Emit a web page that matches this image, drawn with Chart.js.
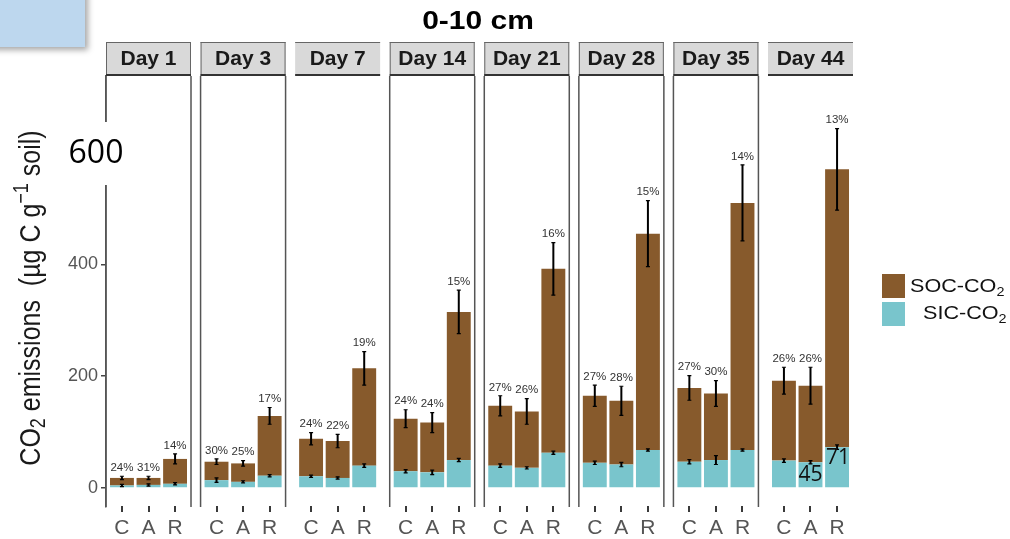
<!DOCTYPE html>
<html>
<head>
<meta charset="utf-8">
<script src="https://cdn.jsdelivr.net/npm/chart.js@4.4.1/dist/chart.umd.min.js"></script>
<style>
  html, body { margin: 0; background: #fff; }
  #wrap { position: relative; width: 1010px; height: 539px; }
</style>
</head>
<body>
<div id="wrap"><canvas id="chart"></canvas></div>
<script>
// values (ug C / g soil)
const days = ['Day 1', 'Day 3', 'Day 7', 'Day 14', 'Day 21', 'Day 28', 'Day 35', 'Day 44'];
const treatments = ['C', 'A', 'R'];
const totalCO2 = [
  [18, 18, 52], [47, 44, 129], [88, 84, 214], [124, 117, 315],
  [147, 137, 392], [165, 156, 455], [179, 169, 510], [192, 183, 570]
];
const sicCO2 = [
  [4.5, 5.5, 7.5], [14, 11, 22], [21, 18, 40], [30, 28, 50],
  [40, 36, 63], [45, 42, 68], [47, 50, 68], [49, 46, 73]
];
const totalErr = [
  [3, 3, 9], [5, 5, 15], [11, 12, 30], [16, 18, 39],
  [18, 23, 47], [19, 26, 59], [22, 23, 68], [24, 33, 73]
];
const sicErr = [
  [2, 2, 2], [4, 2, 2], [2, 2, 3], [3, 4, 3],
  [3, 2, 3], [3, 4, 2], [4, 8, 2], [3, 3, 4]
];
const sicPct = [
  ['24%', '31%', '14%'], ['30%', '25%', '17%'], ['24%', '22%', '19%'], ['24%', '24%', '15%'],
  ['27%', '26%', '16%'], ['27%', '28%', '15%'], ['27%', '30%', '14%'], ['26%', '26%', '13%']
];
const yTicks = [0, 200, 400, 600];
const noteA = '45', noteR = '71';

const BROWN = '#875a2c';
const TEAL = '#79c5cc';
const FONT = '"Liberation Sans", Arial, sans-serif';

const PERIOD = 3.56; // one facet = 3.2 units + gap
const xPos = (d, t) => d * PERIOD + t + 1;
const xTicks = days.flatMap((_, d) => treatments.map((_, t) => xPos(d, t)));
const sicPoints = days.flatMap((_, d) => treatments.map((_, t) => ({ x: xPos(d, t), y: sicCO2[d][t] })));
const socPoints = days.flatMap((_, d) => treatments.map((_, t) => ({ x: xPos(d, t), y: totalCO2[d][t] - sicCO2[d][t] })));

const noBorder = [2, 7]; // these facets lost their frame in the source image

function txt(ctx, s, x, y, font, color, align = 'center', sx = 1.2) {
  ctx.save();
  ctx.translate(x, y);
  ctx.scale(sx, 1);
  ctx.font = font;
  ctx.fillStyle = color;
  ctx.textAlign = align;
  ctx.textBaseline = 'middle';
  ctx.fillText(s, 0, 0);
  ctx.restore();
}

// parts: [text, sizeFactor, dy]
function richText(ctx, parts, size, color) {
  let w = 0;
  parts.forEach(p => { ctx.font = Math.round(size * p[1]) + 'px ' + FONT; w += ctx.measureText(p[0]).width; });
  let x = -w / 2;
  ctx.fillStyle = color;
  ctx.textBaseline = 'middle';
  ctx.textAlign = 'left';
  parts.forEach(p => {
    ctx.font = Math.round(size * p[1]) + 'px ' + FONT;
    ctx.fillText(p[0], x, p[2]);
    x += ctx.measureText(p[0]).width;
  });
  return w;
}

const facetPlugin = {
  id: 'facets',
  beforeDatasetsDraw(chart) {
    const { ctx, chartArea, scales: { x } } = chart;
    ctx.save();
    ctx.strokeStyle = '#555';
    ctx.lineWidth = 1.5;
    days.forEach((_, d) => {
      if (noBorder.includes(d)) return;
      const l = x.getPixelForValue(d * PERIOD + 0.4);
      const r = x.getPixelForValue(d * PERIOD + 3.6);
      ctx.beginPath();
      ctx.moveTo(l, chartArea.top); ctx.lineTo(l, chartArea.bottom);
      ctx.moveTo(r, chartArea.top); ctx.lineTo(r, chartArea.bottom);
      ctx.stroke();
    });
    ctx.restore();
  },
  afterDatasetsDraw(chart) {
    const { ctx, scales: { x, y } } = chart;
    ctx.save();
    ctx.strokeStyle = '#000';
    days.forEach((_, d) => {
      treatments.forEach((_, t) => {
        const px = x.getPixelForValue(xPos(d, t));
        const v = totalCO2[d][t], e = totalErr[d][t];
        const s = sicCO2[d][t], se = sicErr[d][t];
        [[v, e], [s, se]].forEach(([m, err]) => {
          const y0 = y.getPixelForValue(m - err), y1 = y.getPixelForValue(m + err);
          ctx.lineWidth = 2;
          ctx.beginPath(); ctx.moveTo(px, y0); ctx.lineTo(px, y1); ctx.stroke();
          ctx.lineWidth = 1.2;
          ctx.beginPath();
          ctx.moveTo(px - 2, y0); ctx.lineTo(px + 2, y0);
          ctx.moveTo(px - 2, y1); ctx.lineTo(px + 2, y1);
          ctx.stroke();
        });
        txt(ctx, sicPct[d][t], px, y.getPixelForValue(v + e) - 8, '10px ' + FONT, '#333', 'center', 1.15);
      });
    });
    // numbers added on the Day 44 facet
    txt(ctx, noteA, x.getPixelForValue(xPos(7, 1)), 475, '21px "Open Sans", ' + FONT, '#111', 'center', 1);
    txt(ctx, noteR, x.getPixelForValue(xPos(7, 2)) + 1, 458, '21px "Open Sans", ' + FONT, '#111', 'center', 1);
    ctx.restore();
  },
  afterDraw(chart) {
    const { ctx, chartArea, scales: { x } } = chart;
    ctx.save();
    // x tick marks under each bar
    ctx.fillStyle = '#3a3a3a';
    xTicks.forEach(v => {
      const px = Math.round(x.getPixelForValue(v));
      ctx.fillRect(px - 1, chartArea.bottom - 1, 2, 6);
    });
    // facet strips
    const top = 42, bot = chartArea.top;
    days.forEach((name, d) => {
      const l = x.getPixelForValue(d * PERIOD + 0.4);
      const r = x.getPixelForValue(d * PERIOD + 3.6);
      ctx.fillStyle = '#d9d9d9';
      ctx.fillRect(l, top, r - l, bot - top);
      ctx.strokeStyle = '#666';
      ctx.lineWidth = 1;
      ctx.beginPath(); ctx.moveTo(l, top + 0.5); ctx.lineTo(r, top + 0.5); ctx.stroke();
      if (!noBorder.includes(d)) {
        ctx.beginPath(); ctx.moveTo(l + 0.5, top); ctx.lineTo(l + 0.5, bot);
        ctx.moveTo(r - 0.5, top); ctx.lineTo(r - 0.5, bot); ctx.stroke();
      }
      ctx.strokeStyle = '#333';
      ctx.lineWidth = 2;
      ctx.beginPath(); ctx.moveTo(l, bot - 1); ctx.lineTo(r, bot - 1); ctx.stroke();
      txt(ctx, name, (l + r) / 2, (top + bot) / 2, 'bold 20px ' + FONT, '#1a1a1a', 'center', 1.05);
    });
    // title
    txt(ctx, '0-10 cm', 478, 22, 'bold 25px ' + FONT, '#000', 'center', 1.2);

    // y title
    ctx.save();
    ctx.translate(32, 298);
    ctx.rotate(-Math.PI / 2);
    ctx.scale(1, 1.2);
    richText(ctx, [['CO', 1, 0], ['2', 0.7, 6], [' emissions  (µg C g', 1, 0], ['−1', 0.7, -8], [' soil)', 1, 0]], 25, '#1a1a1a');
    ctx.restore();

    // legend
    ctx.fillStyle = BROWN; ctx.fillRect(882, 274, 23, 24);
    ctx.fillStyle = TEAL; ctx.fillRect(882, 302, 23, 24);
    [['SOC-CO', 910, 287], ['SIC-CO', 923, 314]].forEach(([s, lx, ly]) => {
      ctx.save();
      ctx.translate(lx, ly);
      ctx.scale(1.2, 1);
      ctx.font = '18px ' + FONT;
      ctx.fillStyle = '#111';
      ctx.textAlign = 'left';
      ctx.textBaseline = 'middle';
      ctx.fillText(s, 0, 0);
      const w = ctx.measureText(s).width;
      ctx.font = '12px ' + FONT;
      ctx.fillText('2', w, 6);
      ctx.restore();
    });

    // pasted "600" label over the axis
    ctx.fillStyle = '#fff';
    ctx.fillRect(60, 122, 70, 63);
    ctx.font = '32px "Open Sans", ' + FONT;
    ctx.fillStyle = '#000';
    ctx.textAlign = 'center';
    ctx.textBaseline = 'alphabetic';
    ctx.fillText('600', 96, 163);

    // blue box top-left
    ctx.shadowColor = 'rgba(0,0,0,0.35)';
    ctx.shadowBlur = 6;
    ctx.shadowOffsetX = 3;
    ctx.shadowOffsetY = 3;
    ctx.fillStyle = '#bdd7ee';
    ctx.fillRect(-10, -10, 95, 57);
    ctx.restore();
  }
};

new Chart(document.getElementById('chart'), {
  type: 'bar',
  data: {
    datasets: [
      { label: 'SIC-CO2', data: sicPoints, backgroundColor: TEAL, barPercentage: 0.9, categoryPercentage: 1 },
      { label: 'SOC-CO2', data: socPoints, backgroundColor: BROWN, barPercentage: 0.9, categoryPercentage: 1 }
    ]
  },
  options: {
    responsive: true,
    maintainAspectRatio: false,
    animation: false,
    layout: { padding: { left: 0, top: 76, right: 157, bottom: 0 } },
    plugins: { legend: { display: false }, tooltip: { enabled: false } },
    scales: {
      x: {
        type: 'linear',
        stacked: true,
        min: 0.4,
        max: 7 * PERIOD + 3.6,
        offset: false,
        afterBuildTicks: axis => { axis.ticks = xTicks.map(v => ({ value: v })); },
        afterFit: axis => { axis.height = 32; },
        border: { display: false },
        grid: { display: false },
        ticks: {
          autoSkip: false,
          maxRotation: 0,
          padding: 1,
          color: '#555',
          font: { size: 21, family: FONT },
          callback: (v, i) => treatments[i % 3]
        }
      },
      y: {
        stacked: true,
        min: -34,
        max: 737,
        afterBuildTicks: axis => { axis.ticks = yTicks.map(v => ({ value: v })); },
        afterFit: axis => { axis.width = 106; },
        border: { display: true, color: '#555', width: 1.5 },
        grid: { drawOnChartArea: false, drawTicks: true, tickLength: 5, color: '#444', lineWidth: 1.5 },
        ticks: { color: '#555', padding: 3, font: { size: 18, family: FONT } }
      }
    }
  },
  plugins: [facetPlugin]
});
</script>
</body>
</html>
